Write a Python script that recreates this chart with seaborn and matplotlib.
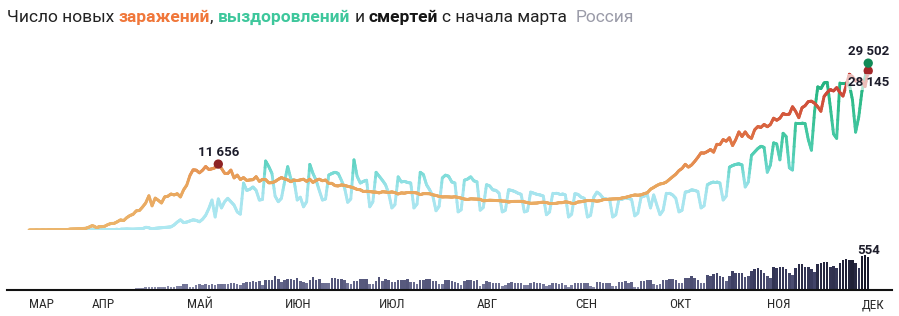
import numpy as np
import pandas as pd
import matplotlib
matplotlib.use("Agg")
import matplotlib.pyplot as plt
import seaborn as sns
from matplotlib.collections import LineCollection
from matplotlib.colors import LinearSegmentedColormap, Normalize

# ---------------- data (daily, 12 Mar 2020 .. 3 Dec 2020) ----------------
start_date = "2020-03-12"
month_labels = ["МАР", "АПР", "МАЙ", "ИЮН", "ИЮЛ", "АВГ", "СЕН", "ОКТ", "НОЯ", "ДЕК"]

cases_mar = [6, 11, 14, 4, 27, 24, 33, 52, 54, 53, 61, 71, 57, 163, 182, 196, 228, 270, 302, 501]
cases_apr = [771, 601, 601, 582, 658, 954, 1154, 1175, 1459, 1786, 1667, 2186, 2558, 2774, 3388,
             3448, 4070, 4785, 6060, 4268, 5642, 5236, 4774, 5849, 5966, 6361, 6198, 6411, 5841, 7099]
cases_may = [7933, 9623, 10633, 10581, 10102, 10559, 11231, 10699, 10817, 11012, 11656, 10899, 10028,
             9974, 10598, 9200, 9709, 8926, 9263, 8764, 8849, 8894, 9434, 8599, 8946, 8915, 8338, 8371,
             8572, 8952, 9268]
cases_jun = [9035, 8863, 8536, 8831, 8726, 8855, 8984, 8595, 8985, 8404, 8779, 8987, 8706, 8835, 8246,
             8248, 7843, 7790, 7972, 7889, 7728, 7600, 7425, 7176, 7113, 6800, 6852, 6791, 6719, 6693]
cases_jul = [6556, 6760, 6718, 6632, 6736, 6611, 6368, 6562, 6509, 6635, 6611, 6615, 6537, 6248, 6422,
             6428, 6406, 6214, 6109, 5940, 5842, 5862, 5848, 5811, 5871, 5765, 5635, 5475, 5395, 5509, 5482]
cases_aug = [5462, 5427, 5159, 5204, 5267, 5241, 5212, 5189, 5118, 5102, 4945, 5041, 5057, 5061, 5065,
             4969, 4839, 4718, 4748, 4767, 4870, 4921, 4852, 4696, 4676, 4711, 4828, 4829, 4980, 4897, 4729]
cases_sep = [4729, 4952, 4995, 5110, 5205, 5195, 5185, 5099, 5172, 5363, 5406, 5449, 5488, 5509, 5529,
             5670, 5762, 5905, 6065, 6196, 6148, 6215, 6431, 6595, 7212, 7523, 7867, 8135, 8232, 8481]
cases_oct = [8945, 9412, 9859, 10499, 10888, 11615, 11115, 11493, 12126, 12846, 13634, 13592, 13868,
             14231, 13754, 15150, 15099, 15982, 15700, 16319, 14922, 15971, 17340, 16521, 17347, 16550,
             16202, 17717, 18283, 18140, 18665]
cases_nov = [18257, 18648, 19768, 19404, 19768, 20582, 20396, 20498, 21798, 20977, 19851, 21608, 21983,
             22702, 22778, 22410, 21798, 20985, 23610, 24318, 24822, 24581, 25173, 24326, 23675, 25487,
             27543, 27100, 26338, 26683]
cases_dec = [26402, 25345, 28145]

rec_mar = [0, 0, 0, 1, 1, 2, 2, 3, 3, 5, 9, 9, 14, 16, 22, 29, 17, 24, 45, 71]
rec_apr = [21, 66, 45, 43, 47, 90, 40, 70, 150, 150, 153, 180, 160, 150, 170, 200, 224, 480, 400, 150,
           300, 350, 400, 450, 500, 550, 900, 1400, 1800, 1300]
rec_may = [1400, 1600, 1800, 1700, 1450, 1900, 2600, 3800, 5300, 2300, 5500, 3900, 5000, 5600, 5000,
           4400, 3200, 2800, 8300, 7000, 7200, 7600, 7000, 5300, 5400, 12200, 11200, 10000, 6000, 5000, 5600]
rec_jun = [8500, 11200, 9000, 8800, 5300, 5800, 4100, 5000, 11600, 10000, 8800, 7000, 5300, 5500, 9700,
           10000, 10200, 10000, 8800, 7500, 4900, 5500, 12400, 9500, 8300, 8600, 8800, 4100, 5000, 10200]
rec_jul = [9500, 8800, 8000, 6500, 3900, 4500, 9400, 8500, 8600, 8400, 8300, 3900, 4600, 10200, 9800,
           8000, 7100, 6000, 3400, 4200, 9200, 9700, 9500, 8500, 8300, 3200, 3600, 8800, 9000, 9400, 8700]
rec_aug = [8500, 3500, 4000, 8000, 7800, 7100, 7000, 6500, 3200, 3500, 7100, 7000, 6800, 6500, 6300,
           3200, 3400, 6700, 6500, 6300, 6200, 6000, 2700, 3200, 6500, 6500, 6400, 6400, 6200, 2300, 2800]
rec_sep = [6400, 6300, 5800, 5600, 2300, 2600, 5800, 6700, 6300, 5600, 5500, 5500, 2300, 2700, 5500,
           5500, 5700, 5600, 5400, 2500, 3000, 5800, 6000, 6200, 3900, 6200, 4400, 2700, 3500, 6500]
rec_oct = [6500, 6200, 5600, 3200, 3500, 6700, 6800, 7100, 7000, 6800, 3900, 4300, 8000, 8300, 8500,
           8500, 8300, 5300, 6000, 11100, 11400, 11600, 11700, 11500, 7600, 8500, 13200, 13800, 14400,
           14800, 14600]
rec_nov = [10200, 11500, 15400, 15200, 12400, 17100, 16500, 11000, 10600, 18900, 18900, 18900, 18800,
           16000, 14100, 21000, 25300, 25000, 26000, 26100, 21700, 17000, 16200, 26000, 26000, 26000,
           25800, 23000, 17300, 20000]
rec_dec = [24500, 27000, 29502]

dea_mar = [0, 0, 0, 0, 0, 0, 0, 1, 0, 0, 0, 0, 0, 1, 0, 1, 1, 4, 1, 8]
dea_apr = [2, 7, 4, 4, 2, 11, 2, 13, 18, 12, 18, 13, 24, 22, 28, 36, 41, 48, 42, 47, 51, 57, 42, 50,
           60, 47, 58, 66, 72, 101]
dea_may = [96, 57, 58, 76, 95, 86, 98, 88, 104, 88, 94, 107, 96, 93, 113, 119, 94, 91, 115, 135, 127,
           150, 139, 153, 92, 174, 161, 174, 232, 181, 138]
dea_jun = [162, 182, 178, 169, 197, 144, 134, 112, 171, 216, 174, 181, 119, 113, 109, 193, 194, 182,
           181, 161, 109, 95, 153, 154, 176, 176, 188, 104, 93, 154]
dea_jul = [216, 147, 176, 168, 135, 134, 173, 175, 174, 188, 130, 130, 95, 175, 175, 183, 186, 146,
           154, 95, 95, 165, 168, 150, 129, 124, 85, 147, 169, 161, 149]
dea_aug = [161, 70, 95, 144, 129, 119, 114, 119, 70, 79, 123, 129, 114, 117, 119, 81, 76, 114, 130,
           116, 121, 94, 68, 90, 121, 122, 102, 117, 82, 56, 82]
dea_sep = [123, 117, 120, 122, 119, 69, 55, 134, 129, 125, 120, 119, 70, 71, 128, 134, 147, 122, 142,
           55, 56, 150, 144, 160, 169, 108, 90, 107, 169, 160]
dea_oct = [186, 177, 169, 120, 115, 198, 201, 239, 202, 174, 110, 115, 244, 232, 268, 279, 239, 219,
           147, 239, 317, 286, 283, 278, 219, 229, 320, 346, 366, 334, 282]
dea_nov = [239, 207, 389, 364, 378, 381, 349, 286, 245, 368, 432, 439, 387, 379, 353, 296, 442, 456,
           463, 467, 391, 401, 372, 456, 507, 524, 496, 510, 456, 370]
dea_dec = [563, 589, 554]

cases = np.array(cases_mar + cases_apr + cases_may + cases_jun + cases_jul + cases_aug +
                 cases_sep + cases_oct + cases_nov + cases_dec, dtype=float)
recovered = np.array(rec_mar + rec_apr + rec_may + rec_jun + rec_jul + rec_aug +
                     rec_sep + rec_oct + rec_nov + rec_dec, dtype=float)
deaths = np.array(dea_mar + dea_apr + dea_may + dea_jun + dea_jul + dea_aug +
                  dea_sep + dea_oct + dea_nov + dea_dec, dtype=float)

dates = pd.date_range(start_date, periods=len(cases), freq="D")
day = np.arange(len(dates))
df = pd.DataFrame({"day": day, "cases": cases, "recovered": recovered, "deaths": deaths})

# ---------------- style ----------------
sns.set_theme(style="white")
plt.rcParams["font.family"] = ["Roboto", "DejaVu Sans"]

W, H = 899, 316
fig = plt.figure(figsize=(W / 100, H / 100), dpi=100)

px_per_day = 3.155
x0_px, x_left_px, x_right_px = 29, 7, 892
xlim = ((x_left_px - x0_px) / px_per_day, (x_right_px - x0_px) / px_per_day)

line_base_px, line_top_px = 230, 49
bar_base_px, bar_top_px = 290, 254.2

axl = fig.add_axes([x_left_px / W, (H - line_base_px) / H,
                    (x_right_px - x_left_px) / W, (line_base_px - line_top_px) / H])
axb = fig.add_axes([x_left_px / W, (H - bar_base_px) / H,
                    (x_right_px - x_left_px) / W, (bar_base_px - bar_top_px) / H])
for a in (axl, axb):
    a.set_xlim(*xlim)
    a.patch.set_alpha(0)
    for s in a.spines.values():
        s.set_visible(False)
axl.set_ylim(0, 32000)
axb.set_ylim(0, 600)
axl.set_xticks([])
axl.set_yticks([])
axb.set_yticks([])

# ---------------- death bars ----------------
death_cmap = LinearSegmentedColormap.from_list(
    "d", [(0, "#9fa1ba"), (0.15, "#75779a"), (0.3, "#56587c"), (0.55, "#3c3e62"), (0.8, "#23243b"),
          (1, "#161729")])
sns.barplot(data=df, x="day", y="deaths", hue="deaths", palette=death_cmap, hue_norm=(0, 600),
            native_scale=True, dodge=False, width=0.8, legend=False, saturation=1,
            linewidth=0, ax=axb)
axb.set_xlim(*xlim)
axb.set_ylim(0, 600)
axb.set_xlabel("")
axb.set_ylabel("")
axb.spines["bottom"].set_visible(True)
axb.spines["bottom"].set_color("#111111")
axb.spines["bottom"].set_linewidth(1.5)

months = pd.date_range("2020-04-01", dates[-1], freq="MS")
tick_days = [0] + [(m - dates[0]).days for m in months]
axb.set_xticks(tick_days)
axb.set_xticklabels(month_labels, ha="left", color="#2a2a2a", fontsize=9.5,
                    family=["Liberation Sans Narrow", "Roboto Condensed", "Roboto", "DejaVu Sans"])
axb.tick_params(axis="x", length=0, pad=6)

# ---------------- gradient lines ----------------
def gradient_line(ax, x, y, cmap, norm, lw, z, sub=6):
    xs, ys = [], []
    for i in range(len(x) - 1):
        t = np.linspace(0, 1, sub, endpoint=False)
        xs.extend(x[i] + (x[i + 1] - x[i]) * t)
        ys.extend(y[i] + (y[i + 1] - y[i]) * t)
    xs.append(x[-1]); ys.append(y[-1])
    xs, ys = np.array(xs), np.array(ys)
    pts = np.column_stack([xs, ys]).reshape(-1, 1, 2)
    segs = np.concatenate([pts[:-1], pts[1:]], axis=1)
    cols = cmap(norm((ys[:-1] + ys[1:]) / 2))
    lc = LineCollection(segs, colors=cols, linewidths=lw, zorder=z)
    lc.set_capstyle("round")
    lc.set_joinstyle("round")
    ax.add_collection(lc)

rec_cmap = LinearSegmentedColormap.from_list(
    "r", [(0, "#ade8f1"), (0.22, "#a6e4ee"), (0.3, "#8adfe0"), (0.38, "#62d4c5"), (0.5, "#4acbaa"),
          (0.75, "#30bc8b"), (1, "#1caa78")])
case_cmap = LinearSegmentedColormap.from_list(
    "c", [(0, "#ecb56c"), (0.3, "#e8a45c"), (0.42, "#e58d50"), (0.55, "#e07646"), (0.72, "#d4583c"),
          (1, "#c63c36")])

gradient_line(axl, day.astype(float), recovered, rec_cmap, Normalize(0, 30000), 2.1, 2)
gradient_line(axl, day.astype(float), cases, case_cmap, Normalize(0, 28500), 2.1, 3)

# ---------------- markers & labels ----------------
i_peak = int(np.argmax(cases[:150]))
i_last = len(day) - 1
pts = pd.DataFrame({"day": [day[i_peak], day[i_last], day[i_last]],
                    "val": [cases[i_peak], cases[i_last], recovered[i_last]],
                    "kind": ["peak", "case", "rec"]})
sns.scatterplot(data=pts, x="day", y="val", hue="kind",
                palette={"peak": "#8e2324", "case": "#a3282a", "rec": "#118a57"},
                s=45, edgecolor="none", legend=False, zorder=6, ax=axl)
axl.set_xlabel(""); axl.set_ylabel("")
axl.set_xlim(*xlim); axl.set_ylim(0, 32000)

def fmt(v):
    return f"{int(v):,}".replace(",", " ")

lab_kw = dict(fontsize=9.5, fontweight="bold", color="#1d1d2b", ha="center", va="center",
              textcoords="offset points", zorder=8)
axl.annotate(fmt(cases[i_peak]), (day[i_peak], cases[i_peak]), xytext=(0, 8.2), **lab_kw)
axl.annotate(fmt(recovered[i_last]), (day[i_last], recovered[i_last]), xytext=(0, 8.2), **lab_kw)
axl.annotate(fmt(cases[i_last]), (day[i_last], cases[i_last]), xytext=(0, -8.2),
             bbox=dict(boxstyle="square,pad=0.1", fc="white", ec="none", alpha=0.65), **lab_kw)
axb.annotate(fmt(deaths[i_last]), (day[i_last], deaths[i_last]), xytext=(0, 5), **lab_kw)

# ---------------- title ----------------
pieces = [("Число новых", "#222222", "normal"), (" ", None, None),
          ("заражений", "#f0773a", "bold"), (",", "#222222", "normal"), (" ", None, None),
          ("выздоровлений", "#3ec79c", "bold"), (" ", None, None),
          ("и", "#222222", "normal"), (" ", None, None),
          ("смертей", "#161616", "bold"), (" ", None, None),
          ("с начала марта", "#222222", "normal"), (" ", None, None), (" ", None, None),
          ("Россия", "#9a9ba8", "normal")]
renderer = fig.canvas.get_renderer()
title_fs = 12.5

def text_w(s, weight, fs):
    t = fig.text(0, 0, s, fontsize=fs, fontweight=weight)
    w = t.get_window_extent(renderer).width
    t.remove()
    return w

space_w = text_w("x x", "normal", title_fs) - text_w("xx", "normal", title_fs)
xpos = 7.0
ty = 1 - 17.5 / H
for s, col, wt in pieces:
    if col is None:
        xpos += space_w
        continue
    t = fig.text(xpos / W, ty, s, fontsize=title_fs, fontweight=wt, color=col, va="center", ha="left")
    xpos += t.get_window_extent(renderer).width

fig.savefig("out.png", dpi=100)
